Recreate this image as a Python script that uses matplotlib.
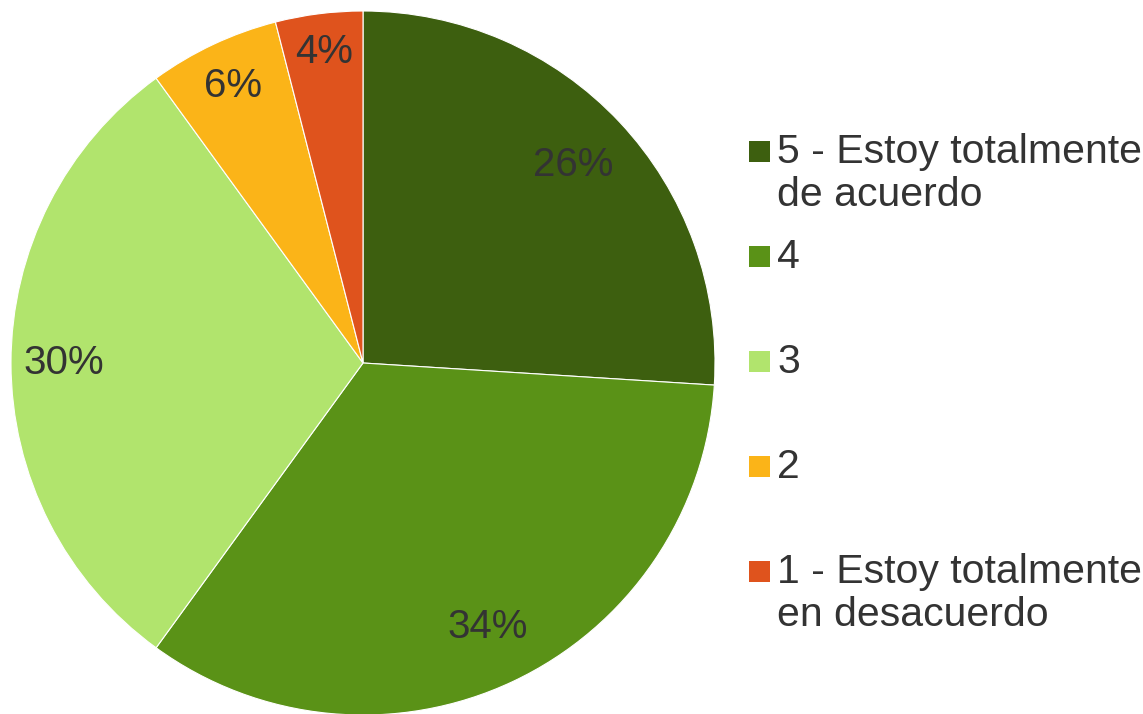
import numpy as np
import matplotlib.pyplot as plt
from matplotlib.patches import Rectangle

plt.rcParams['font.family'] = ['Liberation Sans', 'DejaVu Sans']

# data
labels = ["5 - Estoy totalmente\nde acuerdo", "4", "3", "2",
          "1 - Estoy totalmente\nen desacuerdo"]
values = [26, 34, 30, 6, 4]
colors = ["#3d5f0f", "#5a9217", "#b1e46d", "#fbb418", "#df531d"]
# how far out each percentage sits (fraction of radius)
pct_dist = [0.82, 0.83, 0.85, 0.87, 0.89]

W, H = 1143, 714
fig = plt.figure(figsize=(W / 100, H / 100), dpi=100)

# pie axes: center (363, 363) px, radius ~352 px
cx, cy, r = 363, 363, 352
ax = fig.add_axes([(cx - r) / W, (H - cy - r) / H, 2 * r / W, 2 * r / H])
wedges, texts, autotexts = ax.pie(
    values, colors=colors, startangle=90, counterclock=False,
    autopct='%1.0f%%', pctdistance=0.85,
    wedgeprops=dict(edgecolor='white', linewidth=0.8),
    textprops=dict(fontsize=29, color='#333333'))
for w, t, d in zip(wedges, autotexts, pct_dist):
    ang = np.deg2rad((w.theta1 + w.theta2) / 2)
    t.set_position((d * np.cos(ang), d * np.sin(ang)))
ax.set_xlim(-1, 1)
ax.set_ylim(-1, 1)
ax.set_aspect('equal')

# legend, drawn by hand so entries line up like the original
x_box, x_txt = 749 / W, 777 / W
y0, step = 152, 105
for i, (lab, col) in enumerate(zip(labels, colors)):
    yc = y0 + i * step
    fig.patches.append(Rectangle((x_box, (H - yc - 10) / H), 21 / W, 21 / H,
                                 transform=fig.transFigure, facecolor=col,
                                 edgecolor='none'))
    fig.text(x_txt, (H - yc + 19) / H, lab, fontsize=29.5, color='#333333',
             va='top', ha='left', linespacing=1.15)

fig.savefig("out.png", dpi=100)
